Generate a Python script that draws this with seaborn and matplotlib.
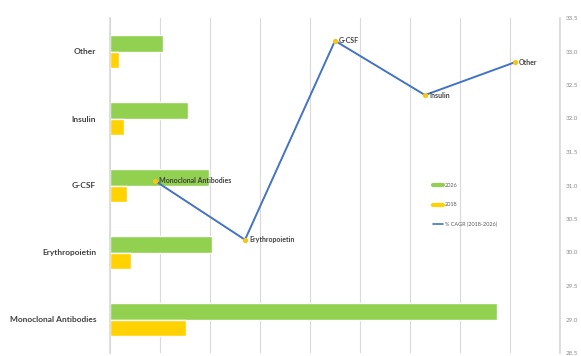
import matplotlib
matplotlib.use("Agg")
import matplotlib.pyplot as plt
import seaborn as sns
import pandas as pd
from matplotlib.lines import Line2D

# ---- data ----
categories = ["Other", "Insulin", "G-CSF", "Erythropoietin", "Monoclonal Antibodies"]
values_2026 = [1.06, 1.56, 1.98, 2.04, 7.74]
values_2018 = [0.18, 0.28, 0.34, 0.42, 1.52]
years = ["2026", "2018"]

cagr_categories = ["Monoclonal Antibodies", "Erythropoietin", "G-CSF", "Insulin", "Other"]
cagr_values = [31.07, 30.19, 33.16, 32.35, 32.84]
cagr_label = "% CAGR (2018-2026)"
right_ticks = [28.5, 29.0, 29.5, 30.0, 30.5, 31.0, 31.5, 32.0, 32.5, 33.0, 33.5]

green = "#92D050"
yellow = "#FFD200"
blue = "#4472C4"

sns.set_theme(style="white")
plt.rcParams["font.family"] = ["Lato", "DejaVu Sans"]

df = pd.DataFrame({
    "category": categories * 2,
    "value": values_2026 + values_2018,
    "year": [years[0]] * len(categories) + [years[1]] * len(categories),
})

fig = plt.figure(figsize=(5.81, 3.56), dpi=100)
pos = [110 / 581, 3 / 356, 450 / 581, 335 / 356]
ax = fig.add_axes(pos)
sns.barplot(data=df, y="category", x="value", hue="year", order=categories,
            hue_order=years, palette=[green, yellow], orient="h", width=0.5,
            ax=ax, legend=False, saturation=1)
ax.set_xlim(0, 9)
ax.set_xticks(range(0, 10))
ax.set_xticklabels([])
ax.set_xlabel("")
ax.set_ylabel("")
ax.grid(axis="x", color="#D9D9D9", linewidth=0.8)
ax.set_axisbelow(True)
ax.tick_params(axis="y", length=0, pad=10, labelsize=6, labelcolor="#404040")
for t in ax.get_yticklabels():
    t.set_fontweight("bold")
ax.tick_params(axis="x", length=0)
for s in ["top", "bottom"]:
    ax.spines[s].set_visible(False)
ax.spines["left"].set_color("#D9D9D9")
ax.spines["right"].set_color("#D9D9D9")

# line on overlay axes
ax2 = fig.add_axes(pos, frameon=False)
ldf = pd.DataFrame({"cat": cagr_categories, "cagr": cagr_values})
sns.lineplot(data=ldf, x="cat", y="cagr", sort=False, color=blue, linewidth=1.4,
             marker="o", markersize=3, markerfacecolor="#F5C518",
             markeredgecolor="#F5C518", ax=ax2)
ax2.set_xlim(-0.5, len(cagr_categories) - 0.5)
ax2.set_ylim(right_ticks[0], right_ticks[-1])
ax2.set_yticks(right_ticks)
ax2.set_yticklabels([f"{v:.1f}" for v in right_ticks])
ax2.yaxis.tick_right()
ax2.tick_params(axis="y", length=0, pad=4, labelsize=4.5, labelcolor="#8C8C8C")
ax2.set_xticks([])
ax2.set_xlabel("")
ax2.set_ylabel("")
for i, (c, v) in enumerate(zip(cagr_categories, cagr_values)):
    ax2.annotate(c, (i, v), xytext=(3, 0), textcoords="offset points",
                 va="center", ha="left", fontsize=5, fontweight="bold",
                 color="#404040")

handles = [Line2D([0], [0], color=green, lw=3),
           Line2D([0], [0], color=yellow, lw=3),
           Line2D([0], [0], color=blue, lw=1.2)]
ax2.legend(handles, years + [cagr_label], loc="upper left",
           bbox_to_anchor=(318 / 450, (353 - 178) / 335), frameon=False,
           fontsize=4, labelcolor="#595959", handlelength=1.8,
           handletextpad=0.3, labelspacing=2.6)

fig.savefig("out.png", dpi=100)
